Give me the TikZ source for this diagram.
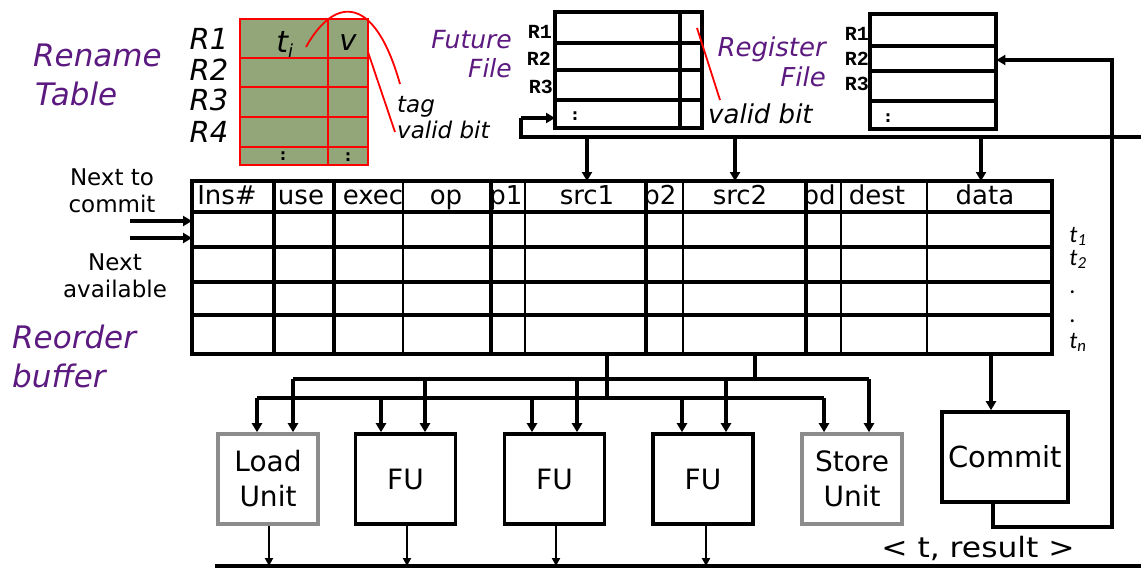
\documentclass[tikz,border=0pt]{standalone}
\usepackage{fontspec}
\setmainfont{DejaVu Sans}
\newfontfamily\monob{Liberation Mono}
\newfontfamily\calib{Carlito}
\usetikzlibrary{arrows.meta}
\definecolor{purp}{RGB}{92,26,128}
\definecolor{rtgreen}{RGB}{146,166,122}
\definecolor{boxgray}{RGB}{140,140,140}
\begin{document}
\begin{tikzpicture}[x=1pt,y=-1pt,
  thk/.style={line width=3.8pt},
  med/.style={line width=2.8pt},
  thn/.style={line width=1.8pt},
  arr/.style={line width=3.2pt,-{Triangle[length=9pt,width=10pt]}},
  arrs/.style={line width=2.4pt,-{Triangle[length=8pt,width=8pt]}},
  unitbox/.style={draw,line width=3.6pt,minimum width=100pt,minimum height=90pt,inner sep=0pt,align=center,font=\fontsize{28}{35}\selectfont},
  grayunit/.style={unitbox,draw=boxgray},
  purplabel/.style={text=purp,inner sep=0pt,anchor=base west},
  plain/.style={inner sep=0pt,anchor=base},
  regl/.style={inner sep=0pt,anchor=base east,font=\monob\bfseries\fontsize{20}{20}\selectfont},
  hdr/.style={inner sep=0pt,anchor=base,font=\fontsize{26}{26}\selectfont},
  rtcell/.style={fill=rtgreen,draw=red,line width=2pt},
  note/.style={red,line width=1.8pt}
]
\useasboundingbox (0,0) rectangle (1141,568);

% ---------- Rename table ----------
\node[purplabel,font=\itshape\fontsize{31}{31}\selectfont] (rn1) at (33,66) {Rename};
\node[purplabel,font=\itshape\fontsize{31}{31}\selectfont] (rn2) at (35,105) {Table};
\foreach \ya/\yb in {19/58,58/87,87/117,117/147,147/165}{
  \draw[rtcell] (240,\ya) rectangle (328,\yb);
  \draw[rtcell] (328,\ya) rectangle (368,\yb);
}
\node[plain,font=\itshape\fontsize{29}{29}\selectfont] (r1) at (209,49) {R1};
\node[plain,font=\itshape\fontsize{29}{29}\selectfont] (r2) at (209,80) {R2};
\node[plain,font=\itshape\fontsize{29}{29}\selectfont] (r3) at (209,110) {R3};
\node[plain,font=\itshape\fontsize{29}{29}\selectfont] (r4) at (209,142) {R4};
\node[plain,font=\itshape\fontsize{30}{30}\selectfont] (ti) at (285,52) {t\textsubscript{\fontsize{18}{18}\selectfont i}};
\node[plain,font=\itshape\fontsize{29}{29}\selectfont] (vv) at (348,50) {v};
\node[plain,font=\bfseries\fontsize{16}{16}\selectfont] (d1) at (283,160) {:};
\node[plain,font=\bfseries\fontsize{16}{16}\selectfont] (d2) at (348,161) {:};
\node[purplabel,text=black,font=\itshape\fontsize{23}{23}\selectfont] (tag) at (397,112) {tag};
\node[purplabel,text=black,font=\itshape\fontsize{23}{23}\selectfont] (vb1) at (397,138) {valid bit};
\draw[note] (306,47) .. controls (335,-5) and (375,-5) .. (400,84);
\draw[note] (368,52) -- (395,132);

% ---------- Future file ----------
\node[purplabel,anchor=base east,font=\itshape\fontsize{25}{25}\selectfont] (ff1) at (512,48) {Future};
\node[purplabel,anchor=base east,font=\itshape\fontsize{25}{25}\selectfont] (ff2) at (512,77) {File};
\node[inner sep=0pt,minimum width=147pt,minimum height=116pt,anchor=north west] (ffile) at (555,12) {};
\draw[thk] (555,12) rectangle (680,128);
\draw[thk] (680,12) rectangle (702,128);
\foreach \y in {43,70,100} \draw[thk] (555,\y) -- (702,\y);
\node[regl] (fr1) at (552,38) {R1};
\node[regl] (fr2) at (551,65) {R2};
\node[regl] (fr3) at (553,93) {R3};
\node[plain,font=\bfseries\fontsize{16}{16}\selectfont] (fd) at (575,120) {:};
\draw[note] (697,28) -- (720,100);
\node[purplabel,text=black,font=\itshape\fontsize{26}{26}\selectfont] (vb2) at (708,123) {valid bit};

% ---------- Register file ----------
\node[purplabel,anchor=base east,font=\itshape\fontsize{26}{26}\selectfont] (rf1) at (826,56) {Register};
\node[purplabel,anchor=base east,font=\itshape\fontsize{26}{26}\selectfont] (rf2) at (826,86) {File};
\node[inner sep=0pt,minimum width=126pt,minimum height=115pt,anchor=north west] (rfile) at (870,14) {};
\draw[thk] (870,14) rectangle (996,129);
\foreach \y in {46,71,101} \draw[thk] (870,\y) -- (996,\y);
\node[regl] (gr1) at (869,40) {R1};
\node[regl] (gr2) at (869,65) {R2};
\node[regl] (gr3) at (869,90) {R3};
\node[plain,font=\bfseries\fontsize{16}{16}\selectfont] (gd) at (888,122) {:};

% ---------- Reorder buffer ----------
\node[inner sep=0pt,minimum width=860pt,minimum height=173pt,anchor=north west] (rob) at (192,181) {};
\node[hdr] (h1) at (227,204) {Ins\#};
\node[hdr] (h2) at (301,204) {use};
\node[hdr] (h3) at (373,204) {exec};
\node[hdr] (h4) at (446,204) {op};
\node[hdr] (h5) at (506,204) {p1};
\node[hdr] (h6) at (587,204) {src1};
\node[hdr] (h7) at (660,204) {p2};
\node[hdr] (h8) at (740,204) {src2};
\node[hdr] (h9) at (819,204) {pd};
\node[hdr] (h10) at (877,204) {dest};
\node[hdr] (h11) at (985,204) {data};
\foreach \x in {274,334,491,646,806} \draw[thk] (\x,181) -- (\x,354);
\foreach \x in {403,525} \draw[med] (\x,181) -- (\x,354);
\foreach \x in {683,841,927} \draw[thn] (\x,181) -- (\x,354);
\foreach \y in {212,247,282,315} \draw[thk] (192,\y) -- (1052,\y);
\draw[thk] (192,181) rectangle (1052,354);

\node[plain,font=\calib\itshape\fontsize{24}{24}\selectfont] (t1) at (1078,242) {t\textsubscript{1}};
\node[plain,font=\calib\itshape\fontsize{24}{24}\selectfont] (t2) at (1078,265) {t\textsubscript{2}};
\node[plain,font=\calib\itshape\fontsize{24}{24}\selectfont] (t3) at (1073,293) {.};
\node[plain,font=\calib\itshape\fontsize{24}{24}\selectfont] (t4) at (1073,322) {.};
\node[plain,font=\calib\itshape\fontsize{24}{24}\selectfont] (tn) at (1078,348) {t\textsubscript{n}};

\node[plain,font=\fontsize{23}{23}\selectfont] (nc1) at (112,185) {Next to};
\node[plain,font=\fontsize{23}{23}\selectfont] (nc2) at (112,212) {commit};
\node[plain,font=\fontsize{23}{23}\selectfont] (na1) at (115,270) {Next};
\node[plain,font=\fontsize{23}{23}\selectfont] (na2) at (115,297) {available};
\node[purplabel,font=\itshape\fontsize{31}{31}\selectfont] (ro1) at (12,348) {Reorder};
\node[purplabel,font=\itshape\fontsize{31}{31}\selectfont] (ro2) at (12,387) {buffer};
\coordinate (ncs) at (130,221);
\coordinate (nas) at (130,238);
\draw[arr] (ncs) -- (ncs -| rob.west);
\draw[arr] (nas) -- (nas -| rob.west);

% ---------- top bus ----------
\coordinate (busR) at (1141,137);
\coordinate (busL) at (521,137);
\coordinate (busU) at (521,118);
\draw[line width=3.2pt] (busR) -- (busL) -- (busU);
\draw[arr] (busU) -- (busU -| ffile.west);
\draw[arr] (587,137) -- (587,181);
\draw[arr] (735,137) -- (735,181);
\draw[arr] (981,137) -- (981,181);

% ---------- units ----------
\node[grayunit] (load) at (268,479) {Load\\Unit};
\node[unitbox] (fu1) at (405.5,479) {FU};
\node[unitbox] (fu2) at (554.5,479) {FU};
\node[unitbox] (fu3) at (703,479) {FU};
\node[grayunit] (store) at (852,479) {Store\\Unit};
\node[unitbox,minimum width=126pt,font=\fontsize{29}{35}\selectfont] (commit) at (1005,457) {Commit};

% buses to units
\coordinate (lowL) at (257,398);
\coordinate (lowR) at (824,398);
\coordinate (upL) at (293,379);
\coordinate (upR) at (869,379);
\draw[line width=3.2pt] (607,354) -- (607,398);
\draw[line width=3.2pt] (755,354) -- (755,379);
\draw[line width=3.2pt] (lowL) -- (lowR);
\draw[line width=3.2pt] (upL) -- (upR);
\draw[arr] (lowL) -- ([xshift=-11pt]load.north);
\draw[arr] (upL) -- ([xshift=25pt]load.north);
\draw[arr] (381,398) -- ([xshift=-24.5pt]fu1.north);
\draw[arr] (425,379) -- ([xshift=19.5pt]fu1.north);
\draw[arr] (532,398) -- ([xshift=-22.5pt]fu2.north);
\draw[arr] (577,379) -- ([xshift=22.5pt]fu2.north);
\draw[arr] (682,398) -- ([xshift=-21pt]fu3.north);
\draw[arr] (726,379) -- ([xshift=23pt]fu3.north);
\draw[arr] (lowR) -- ([xshift=-28pt]store.north);
\draw[arr] (upR) -- ([xshift=17pt]store.north);

% commit path
\draw[arr] (991,354) -- ([xshift=-14pt]commit.north);
\coordinate (cl1) at (993,527);
\coordinate (cl2) at (1112,527);
\coordinate (cl3) at (1112,60);
\draw[arr] ([xshift=-12pt]commit.south) -- (cl1) -- (cl2) -- (cl3) -- (cl3 -| rfile.east);

% result bus
\coordinate (rbL) at (215,566);
\coordinate (rbR) at (1141,566);
\draw[line width=3.2pt] (rbL) -- (rbR);
\draw[arrs] ([xshift=1pt]load.south) -- ([xshift=1pt]load.south |- rbL);
\draw[arrs] ([xshift=1.5pt]fu1.south) -- ([xshift=1.5pt]fu1.south |- rbL);
\draw[arrs] ([xshift=1.5pt]fu2.south) -- ([xshift=1.5pt]fu2.south |- rbL);
\draw[arrs] ([xshift=3pt]fu3.south) -- ([xshift=3pt]fu3.south |- rbL);
\node[plain,font=\fontsize{28}{28}\selectfont,xscale=1.12] (res) at (978,557) {< t, result >};
\end{tikzpicture}
\end{document}
